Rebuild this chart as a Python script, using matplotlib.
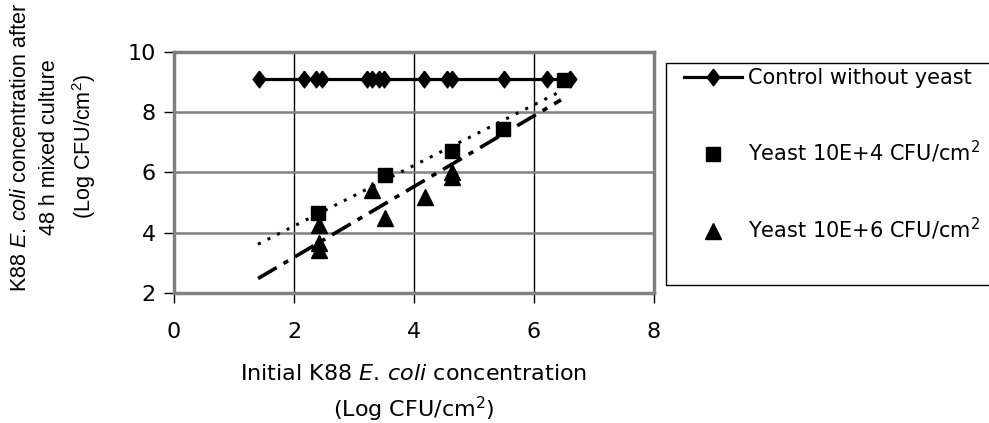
import numpy as np
import matplotlib
matplotlib.use('Agg')
from matplotlib import pyplot as plt
from matplotlib.patches import Rectangle

plt.rcParams['font.family'] = ['DejaVu Sans']
plt.rcParams['mathtext.fontset'] = 'dejavusans'
plt.rcParams['mathtext.rm'] = 'Liberation Sans'
plt.rcParams['mathtext.it'] = 'Liberation Sans:italic'

# control without yeast
ctrl_x = [1.42, 2.17, 2.36, 2.47, 3.22, 3.3, 3.42, 3.5, 4.17, 4.55, 4.63, 5.5, 6.22, 6.6]
ctrl_y = [9.09, 9.09, 9.09, 9.09, 9.09, 9.09, 9.09, 9.09, 9.09, 9.09, 9.09, 9.09, 9.09, 9.09]

# yeast 10E+4
sq_x = [2.4, 3.52, 4.63, 5.48, 6.5]
sq_y = [4.67, 5.91, 6.72, 7.43, 9.07]

# yeast 10E+6
tri_x = [2.42, 2.42, 2.42, 3.3, 3.52, 4.18, 4.63, 4.63]
tri_y = [4.25, 3.65, 3.42, 5.42, 4.49, 5.19, 6.0, 5.85]

# trend lines (endpoints)
trend_x = [1.4, 6.45]
trend_sq_y = [3.62, 8.7]
trend_tri_y = [2.48, 8.41]

W, H = 989, 423
fig = plt.figure(figsize=(W / 100, H / 100), dpi=100)
ax = fig.add_axes([174 / W, 1 - 293 / H, (654 - 174) / W, (293 - 52) / H])

diamond = [(0, 1), (0.76, 0), (0, -1), (-0.76, 0), (0, 1)]

ax.plot(trend_x, trend_sq_y, color='black', lw=2.2, linestyle=(0, (1, 2.5)), zorder=2)
ax.plot(trend_x, trend_tri_y, color='black', lw=2.6, linestyle=(0, (6, 2.2, 1.5, 2.2)), zorder=2)

ax.plot(ctrl_x, ctrl_y, color='black', lw=2.3, marker=diamond, ms=12,
        label='Control without yeast', zorder=3)
ax.plot(sq_x, sq_y, linestyle='none', color='black', marker='s', ms=9.6,
        label='Yeast 10E+4 CFU/cm$^2$', zorder=4)
ax.plot(tri_x, tri_y, linestyle='none', color='black', marker='^', ms=11.3,
        label='Yeast 10E+6 CFU/cm$^2$', zorder=4)

ax.set_xlim(0, 8)
ax.set_ylim(2, 10)
ax.set_xticks([0, 2, 4, 6, 8])
ax.set_yticks([2, 4, 6, 8, 10])

for x in [2, 4, 6]:
    ax.axvline(x, color='black', lw=1, zorder=1)
for y in [4, 6, 8]:
    ax.axhline(y, color='#808080', lw=1.8, zorder=1)

for s in ax.spines.values():
    s.set_color('#808080')
    s.set_linewidth(2.5)

ax.tick_params(axis='both', labelsize=16, direction='out', length=7, width=1, color='black')
ax.tick_params(axis='y', pad=6)
ax.tick_params(axis='x', pad=14)

ax.set_xlabel('Initial K88 $\\mathit{E.\\,coli}$ concentration\n(Log CFU/cm$^2$)',
              fontsize=16, linespacing=1.45, labelpad=16)

fig.text(54 / W, 1 - 147 / H,
         'K88 $\\mathit{E.\\,coli}$ concentration after\n48 h mixed culture\n(Log CFU/cm$^2$)',
         rotation=90, ha='center', va='center', fontsize=15.5, linespacing=1.5,
         multialignment='center', family='Liberation Sans',
         math_fontfamily='custom')

fig.patches.append(Rectangle((666 / W, 1 - 285 / H), 0.5, 222 / H, transform=fig.transFigure,
                             fill=False, edgecolor='black', lw=1))

ax.legend(loc='upper left', bbox_to_anchor=(684 / W, 1 - 68 / H), bbox_transform=fig.transFigure,
          frameon=False, fontsize=15, handlelength=2.8, handletextpad=0.25,
          labelspacing=2.45, borderpad=0, borderaxespad=0, numpoints=1)

fig.savefig('out.png', dpi=100)
